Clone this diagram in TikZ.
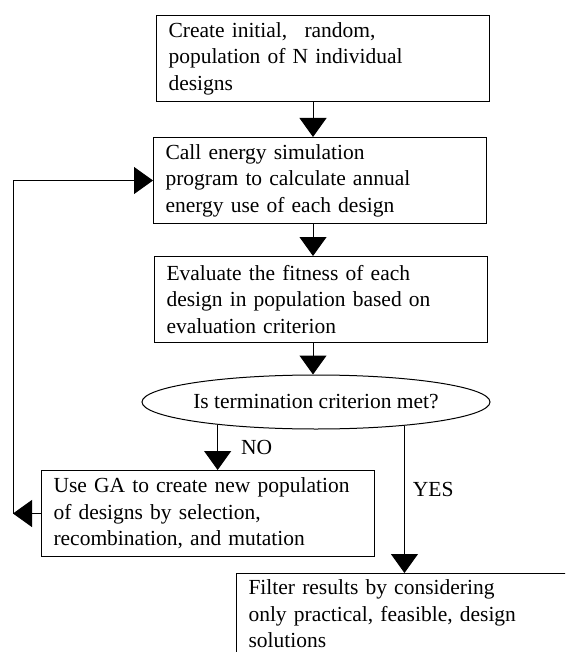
\documentclass[tikz,border=0pt]{standalone}
\usepackage{fontspec}
\setmainfont{Liberation Serif}
\usepackage{tikz}
\usetikzlibrary{
  arrows.meta,%
  shapes.geometric,%
  positioning,
  calc
}
\tikzset{>={Triangle[length=19pt,width=27pt]}}
\tikzset{font=\fontsize{21.5pt}{26.5pt}\selectfont}
\tikzset{procbox/.style={draw, line width=1pt, anchor=north west,
    text width=309pt, inner xsep=12pt, inner ysep=0pt,
    minimum height=86pt, align=left}}
\tikzset{decision/.style={draw, ellipse, line width=1pt,
    minimum width=348pt, minimum height=54pt, inner sep=0pt}}
\tikzset{arr/.style={->, line width=1pt}}
\tikzset{lbl/.style={anchor=west, inner sep=2pt}}

\begin{document}
\begin{tikzpicture}[x=1pt, y=-1pt]
  \clip (0,0) rectangle (565,652);
  % main column
  \node[procbox] (init) at (156,15) {Create initial,\hspace{0.8em}random,\\
    population of N individual\\ designs};
  \node[procbox] (sim) at (153,137) {Call energy simulation\\
    program to calculate annual\\ energy use of each design};
  \node[procbox] (eval) at (154,256) {Evaluate the fitness of each\\
    design in population based on\\ evaluation criterion};
  \node[decision] (term) at (316,402) {Is termination criterion met?};
  \node[procbox] (newpop) at (41,470) {\mbox{Use GA to create new population}\\
    of designs by selection,\\ recombination, and mutation};
  \node[procbox, minimum height=81pt] (filter) at (236,573) {Filter results by considering\\
    only practical, feasible, design\\ solutions};
  \coordinate (col) at (313,0);
  \coordinate (back) at (13,0);
  % connectors
  \draw[arr] (init.south -| col) -- (sim.north -| col);
  \draw[arr] (sim.south -| col) -- (eval.north -| col);
  \draw[arr] (eval.south -| col) -- (term.north -| col);
  \draw[arr] (term.193) -- (term.193 |- newpop.north)
    node[lbl, pos=0.5, xshift=21pt] (no) {NO};
  \draw[arr] (term.345) -- (term.345 |- filter.north)
    node[lbl, pos=0.43, xshift=6pt] (yes) {YES};
  \draw[arr] (newpop.west) -- (newpop.west -| back);
  \draw[arr] (newpop.west -| back) |- (sim.west);
\end{tikzpicture}
\end{document}
